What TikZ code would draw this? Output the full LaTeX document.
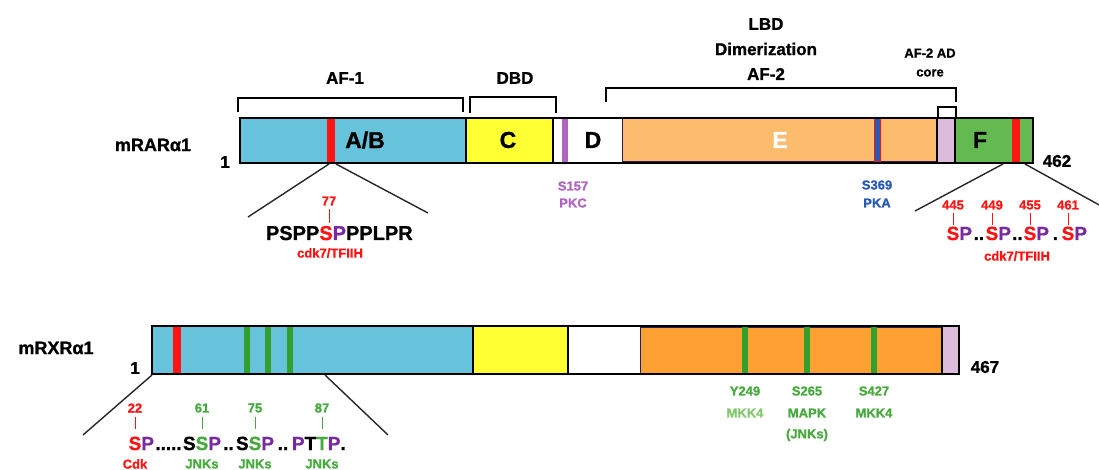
\documentclass[tikz,border=0pt]{standalone}
\usepackage{fontspec}
\setmainfont{Liberation Sans}[BoldFeatures={FakeBold=1}]
\usetikzlibrary{calc}
\definecolor{rarblue}{RGB}{102,195,219}
\definecolor{dyellow}{RGB}{255,255,51}
\definecolor{lorange}{RGB}{253,187,110}
\definecolor{dorange}{RGB}{255,160,50}
\definecolor{lpink}{RGB}{221,187,221}
\definecolor{fgreen}{RGB}{100,185,80}
\definecolor{mred}{RGB}{255,20,20}
\definecolor{spurple}{RGB}{176,102,192}
\definecolor{ppurple}{RGB}{120,40,160}
\definecolor{pkablue}{RGB}{40,90,180}
\definecolor{mgreen}{RGB}{50,160,45}
\definecolor{tgreen}{RGB}{70,170,60}
\definecolor{lgreen}{RGB}{130,200,110}
\definecolor{navy}{RGB}{40,30,90}
\begin{document}
\begin{tikzpicture}[x=1pt,y=-1pt,
  every node/.style={inner sep=0pt,outer sep=0pt},
  head/.style={font=\bfseries\fontsize{17}{19}\selectfont},
  dom/.style={font=\bfseries\fontsize{23}{25}\selectfont},
  small/.style={font=\bfseries\fontsize{13}{15}\selectfont},
  seq/.style={font=\bfseries\fontsize{19}{21}\selectfont},
  seqb/.style={font=\bfseries\fontsize{20}{22}\selectfont},
  brk/.style={line width=1.8pt},
  call/.style={line width=1.4pt,black!85},
  tick/.style={line width=0.8pt},
  outline/.style={line width=2.5pt},
  divider/.style={line width=1.5pt}]
\useasboundingbox (0,0) rectangle (1099,470);

% ---------------- mRARa1 ----------------
\fill[rarblue] (240,118) rectangle (466,163);
\fill[dyellow] (466,118) rectangle (553,163);
\fill[white] (553,118) rectangle (622,163);
\filldraw[fill=lorange,draw=navy,line width=1pt] (622,119) rectangle (937,162);
\fill[lpink] (937,118) rectangle (955,163);
\fill[fgreen] (955,118) rectangle (1033,163);
\draw[divider] (466,118) -- (466,163);
\draw[divider] (553,118) -- (553,163);
\draw[divider] (937,118) -- (937,163);
\draw[divider] (955,118) -- (955,163);
% markers
\fill[mred] (327,118) rectangle (335,163);
\fill[spurple] (562,118) rectangle (568,163);
\filldraw[fill=pkablue,draw=mred,line width=1pt] (874,119) rectangle (880,162);
\fill[mred] (1012,118) rectangle (1020,163);
\draw[outline] (240,118) rectangle (1033,163);

% brackets
\draw[brk] (238,112) -- (238,98) -- (463,98) -- (463,112);
\draw[brk] (470,113) -- (470,97) -- (556,97) -- (556,113);
\draw[brk] (606,102) -- (606,88) -- (956,88) -- (956,102);
\draw[brk] (938,118) -- (938,107) -- (956,107) -- (956,118);

\node[head] (af1) at (345,78) {AF-1};
\node[head] (dbd) at (515,78) {DBD};
\node[head] (lbd1) at (766,24) {LBD};
\node[head] (lbd2) at (766,49) {Dimerization};
\node[head] (lbd3) at (766,74) {AF-2};
\node[font=\bfseries\fontsize{13}{15}\selectfont] (ad1) at (930,53) {AF-2 AD};
\node[font=\bfseries\fontsize{13}{15}\selectfont] (ad2) at (930,73) {core};

\node[head,font=\bfseries\fontsize{18}{20}\selectfont] (rar) at (153,145) {mRARα1};
\node[head] (rar1) at (225,162) {1};
\node[head] (rar462) at (1057,161) {462};

\node[dom] (ab) at (365,140) {A/B};
\node[dom] (c) at (508,140) {C};
\node[dom] (d) at (593,140) {D};
\node[dom,text=white] (e) at (780,140) {E};
\node[dom] (f) at (980,140) {F};

\node[small,text=spurple] (s157) at (573,186) {S157};
\node[small,text=spurple] (pkc) at (573,203) {PKC};
\node[small,text=pkablue] (s369) at (877,185) {S369};
\node[small,text=pkablue] (pka) at (877,203) {PKA};

% A/B callout
\coordinate (abL) at (329,164);
\coordinate (abR) at (336,164);
\coordinate (abLe) at (248,217);
\coordinate (abRe) at (428,213);
\draw[call] (abL) -- (abLe);
\draw[call] (abR) -- (abRe);
\node[small,text=mred] (n77) at (329,201) {77};
\node[seqb,anchor=base,text=mred] (s77) at (326,240) {S};
\node[seqb,anchor=base east] (pre77) at (s77.base west) {PSPP};
\node[seqb,anchor=base west,text=ppurple] (p77) at (s77.base east) {P};
\node[seqb,anchor=base west] (post77) at (p77.base east) {PPLPR};
\draw[tick,mred] (329,209) -- (329,223);
\node[small,text=mred] (cdk1) at (330,253) {cdk7/TFIIH};

% F callout
\coordinate (fL) at (1003,164);
\coordinate (fR) at (1025,164);
\coordinate (fLe) at (915,211);
\coordinate (fRe) at (1101,206);
\draw[call] (fL) -- (fLe);
\draw[call] (fR) -- (fRe);
\foreach \nm/\xx in {445/953, 449/992, 455/1030, 461/1068}{
  \node[small,text=mred] (n\nm) at (\xx,205) {\nm};
  \draw[tick,mred] (\xx,213) -- (\xx,225);
  \node[seq,anchor=base,text=mred] (s\nm) at (\xx,240) {S};
  \node[seq,anchor=base west,text=ppurple] (p\nm) at (s\nm.base east) {P};
}
\node[seq,anchor=base] (d1) at ($(p445.base east)!0.5!(s449.base west)$) {..};
\node[seq,anchor=base] (d2) at ($(p449.base east)!0.5!(s455.base west)$) {..};
\node[seq,anchor=base] (d3) at ($(p455.base east)!0.5!(s461.base west)$) {.};
\node[small,text=mred] (cdk2) at (1017,256) {cdk7/TFIIH};

% ---------------- mRXRa1 ----------------
\fill[rarblue] (152,326) rectangle (473,374);
\fill[dyellow] (473,326) rectangle (568,374);
\fill[white] (568,326) rectangle (640,374);
\filldraw[fill=dorange,draw=navy,line width=1pt] (640,327) rectangle (942,373);
\fill[lpink] (942,326) rectangle (959,374);
\draw[divider] (473,326) -- (473,374);
\draw[divider] (568,326) -- (568,374);
\draw[divider] (942,326) -- (942,374);
\fill[mred] (173,326) rectangle (181,374);
\foreach \xx in {247,268,290,745,807,874}{
  \fill[mgreen] (\xx-3,326) rectangle (\xx+3,374);
}
\draw[outline] (152,326) rectangle (959,374);

\node[head,font=\bfseries\fontsize{18}{20}\selectfont] (rxr) at (56,348) {mRXRα1};
\node[head] (rxr1) at (135,368) {1};
\node[head] (rxr467) at (985,367) {467};

\node[small,text=tgreen] (y249) at (745,391) {Y249};
\node[small,text=lgreen] (mkk4a) at (745,413) {MKK4};
\node[small,text=tgreen] (s265) at (807,391) {S265};
\node[small,text=tgreen] (mapk) at (807,413) {MAPK};
\node[small,text=tgreen] (jnkx) at (807,435) {(JNKs)};
\node[small,text=tgreen] (s427) at (874,391) {S427};
\node[small,text=tgreen] (mkk4b) at (874,413) {MKK4};

% RXR callout
\coordinate (xL) at (152,375);
\coordinate (xR) at (325,375);
\coordinate (xLe) at (83,435);
\coordinate (xRe) at (388,435);
\draw[call] (xL) -- (xLe);
\draw[call] (xR) -- (xRe);

\node[small,text=mred] (n22) at (135,408) {22};
\node[small,text=tgreen] (n61) at (202,408) {61};
\node[small,text=tgreen] (n75) at (255,408) {75};
\node[small,text=tgreen] (n87) at (322,408) {87};
\draw[tick,mred] (135,417) -- (135,429);
\foreach \xx in {202,255,322}{ \draw[tick,tgreen] (\xx,417) -- (\xx,429); }

\node[seq,anchor=base,text=mred] (x22) at (135,450) {S};
\node[seq,anchor=base west,text=ppurple] (x22p) at (x22.base east) {P};
\node[seq,anchor=base,text=tgreen] (x61) at (202,450) {S};
\node[seq,anchor=base east] (x61b) at (x61.base west) {S};
\node[seq,anchor=base west,text=ppurple] (x61p) at (x61.base east) {P};
\node[seq,anchor=base] (xd1) at ($(x22p.base east)!0.5!(x61b.base west)$) {.....};
\node[seq,anchor=base,text=tgreen] (x75) at (255,450) {S};
\node[seq,anchor=base east] (x75b) at (x75.base west) {S};
\node[seq,anchor=base west,text=ppurple] (x75p) at (x75.base east) {P};
\node[seq,anchor=base] (xd2) at ($(x61p.base east)!0.5!(x75b.base west)$) {..};
\node[seq,anchor=base,text=tgreen] (x87) at (322,450) {T};
\node[seq,anchor=base east] (x87b) at (x87.base west) {T};
\node[seq,anchor=base east,text=ppurple] (x87c) at (x87b.base west) {P};
\node[seq,anchor=base west,text=ppurple] (x87p) at (x87.base east) {P};
\node[seq,anchor=base west] (x87d) at (x87p.base east) {.};
\node[seq,anchor=base] (xd3) at ($(x75p.base east)!0.5!(x87c.base west)$) {..};

\node[small,text=mred] (cdk3) at (135,464) {Cdk};
\node[small,text=tgreen] (j61) at (202,464) {JNKs};
\node[small,text=tgreen] (j75) at (255,464) {JNKs};
\node[small,text=tgreen] (j87) at (322,464) {JNKs};
\end{tikzpicture}
\end{document}
